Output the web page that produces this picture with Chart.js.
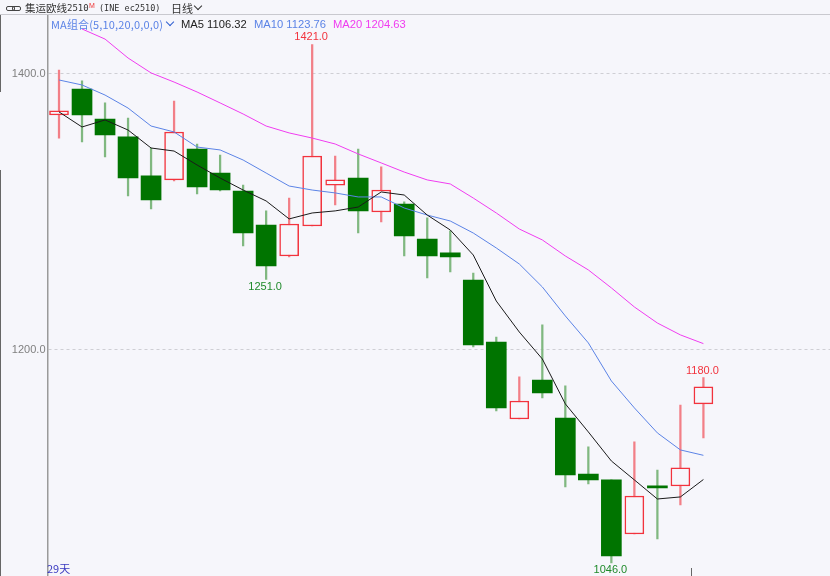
<!DOCTYPE html>
<html>
<head>
<meta charset="utf-8">
<script src="https://cdn.jsdelivr.net/npm/chart.js@4"></script>
<style>
  html, body { margin: 0; padding: 0; width: 830px; height: 576px; overflow: hidden; background: #f6f6fb; }
  canvas { position: absolute; left: 0; top: 0; }
  .txt { position: absolute; white-space: pre; font-family: "Liberation Sans", sans-serif; font-size: 11.2px; line-height: 14px; }
  #header { position: absolute; left: 0; top: 0; width: 830px; height: 14px; background: #f6f6fb; border-bottom: 1px solid #c9c9cf; }
  .chev { position: absolute; width: 5px; height: 5px; border-right: 1.3px solid #333; border-bottom: 1.3px solid #333; transform: rotate(45deg); }
  .bar { position: absolute; background: #666; }
</style>
</head>
<body>
<canvas id="chart" width="830" height="576"></canvas>
<div id="header"></div>
<div class="bar" style="left:0;top:15px;width:1px;height:77px"></div>
<div class="bar" style="left:0;top:170px;width:1px;height:406px"></div>
<div class="bar" style="left:691px;top:568px;width:1px;height:8px"></div>
<div style="position:absolute;left:6px;top:6px;width:7px;height:3px;border:1px solid #444;border-radius:2px"></div>
<div style="position:absolute;left:12px;top:6px;width:7px;height:3px;border:1px solid #444;border-radius:2px"></div>
<div class="txt" style="left:25px;top:1px;color:#333;font-family:'Noto Sans CJK SC';font-size:10.5px">集运欧线</div>
<div class="txt" style="left:67px;top:1px;color:#333;font-family:'DejaVu Sans Mono';font-size:9px">2510</div>
<div class="txt" style="left:89px;top:-1px;color:#e33;font-size:7px">M</div>
<div class="txt" style="left:99px;top:1px;color:#333;font-family:'DejaVu Sans Mono';font-size:8.5px">(INE ec2510)</div>
<div class="txt" style="left:171px;top:1px;color:#333;font-family:'Noto Sans CJK SC';font-size:11px">日线</div>
<div class="chev" style="left:195px;top:3px"></div>
<div class="txt" style="left:51px;top:17px;color:#5b83e6;font-family:'Noto Sans CJK SC';font-size:11px;letter-spacing:0.15px">MA组合(5,10,20,0,0,0)</div>
<div class="chev" style="left:167px;top:19px;border-color:#2f5fd0"></div>
<div class="txt" style="left:181px;top:17px;color:#222">MA5 1106.32</div>
<div class="txt" style="left:254px;top:17px;color:#5b83e6">MA10 1123.76</div>
<div class="txt" style="left:333px;top:17px;color:#f03cf0">MA20 1204.63</div>
<div class="txt" style="left:47px;top:561px;color:#3a3ac0;font-family:'Noto Sans CJK SC';font-size:11px">29天</div>
<script>
const days = ['1','2','3','4','5','6','7','8','9','10','11','12','13','14','15','16','17','18','19','20','21','22','23','24','25','26','27','28','29','','','','',''];

const opens = [1370.0,1388.8,1367.1,1354.1,1325.9,1323.0,1345.4,1328.0,1315.0,1290.4,1268.0,1289.7,1319.3,1324.4,1299.8,1305.6,1280.3,1270.2,1250.6,1205.8,1150.1,1178.3,1150.8,1110.3,1106.0,1066.9,1100.9,1101.6,1161.0];
const closes = [1372.9,1370.0,1355.5,1324.4,1308.5,1357.7,1317.9,1315.7,1284.6,1260.8,1291.1,1340.3,1323.0,1300.6,1315.7,1282.5,1268.0,1267.3,1203.6,1158.1,1163.1,1168.9,1109.6,1106.0,1051.0,1094.4,1100.2,1114.7,1173.3];
const highs = [1402.5,1394.6,1378.7,1367.8,1346.1,1380.1,1349.0,1341.0,1319.3,1300.6,1309.9,1421.0,1340.3,1345.4,1332.4,1307.1,1295.5,1286.1,1255.7,1209.4,1180.5,1218.1,1174.0,1129.9,1106.0,1133.5,1113.2,1160.2,1180.0];
const lows = [1353.3,1350.5,1339.6,1311.4,1302.0,1322.2,1312.8,1315.0,1275.2,1251.0,1267.3,1289.7,1304.9,1284.6,1292.6,1268.0,1252.1,1256.4,1202.2,1155.9,1150.1,1165.3,1100.9,1103.1,1046.0,1066.9,1063.3,1087.9,1136.4];

const ma5 = [1372.2,1361.3,1366.4,1359.1,1346.1,1343.9,1333.8,1324.4,1315.7,1307.8,1294.8,1299.1,1300.6,1303.4,1314.3,1312.1,1297.6,1286.8,1268.7,1235.4,1213.0,1193.5,1161.0,1140.7,1119.7,1106.0,1092.2,1093.7,1106.3];
const ma10 = [1395.3,1391.7,1384.4,1375.0,1362.0,1357.7,1346.8,1344.7,1337.4,1328.0,1318.6,1315.7,1313.6,1310.7,1310.7,1302.7,1297.6,1293.3,1284.6,1273.8,1262.2,1245.6,1224.6,1205.1,1177.6,1158.1,1140.0,1127.7,1123.8];
const ma20 = [null,1432.2,1424.9,1411.2,1400.4,1393.8,1386.6,1378.7,1370.7,1362.0,1357.0,1353.3,1349.0,1341.8,1335.3,1328.7,1323.0,1320.1,1309.9,1299.1,1287.5,1279.6,1268.0,1257.9,1244.9,1231.1,1219.5,1210.9,1204.6];

const yTicks = [1200, 1400];

// high / low values printed next to the wicks
const markIndex = [11, 9, 24, 28];

const RED = '#f2333d';
const GREEN = '#007400';
const BG = '#f6f6fb';

const isUp = (i) => closes[i] >= opens[i];

const markLabels = {
    id: 'markLabels',
    afterDatasetsDraw(chart) {
        const { ctx, scales } = chart;
        ctx.save();
        ctx.font = '11px "Liberation Sans"';
        ctx.textAlign = 'center';
        ctx.textBaseline = 'middle';
        markIndex.forEach((i) => {
            const up = isUp(i);
            const v = up ? highs[i] : lows[i];
            const y = scales.y.getPixelForValue(v) + (up ? -7 : 7);
            ctx.fillStyle = up ? RED : '#1f8a2a';
            ctx.fillText(v.toFixed(1), scales.x.getPixelForValue(i) - 1, y);
        });
        ctx.restore();
    }
};

new Chart(document.getElementById('chart'), {
    data: {
        labels: days,
        datasets: [
            { type: 'line', label: 'MA5', data: ma5, borderColor: '#1a1a1a', borderWidth: 1, pointRadius: 0, tension: 0, order: 1 },
            { type: 'line', label: 'MA10', data: ma10, borderColor: '#5b83e6', borderWidth: 1, pointRadius: 0, tension: 0, order: 1 },
            { type: 'line', label: 'MA20', data: ma20, borderColor: '#f03cf0', borderWidth: 1, pointRadius: 0, tension: 0, order: 1 },
            {
                type: 'bar', label: 'up', order: 2, grouped: false, barThickness: 19, borderSkipped: false, borderWidth: 1.5,
                borderColor: RED, backgroundColor: BG,
                data: opens.map((o, i) => (isUp(i) ? [o, closes[i]] : null))
            },
            {
                type: 'bar', label: 'down', order: 2, grouped: false, barThickness: 20, borderSkipped: false, borderWidth: 0, minBarLength: 2,
                backgroundColor: GREEN,
                data: opens.map((o, i) => (isUp(i) ? null : [closes[i], o]))
            },
            {
                type: 'bar', label: 'wick up', order: 3, grouped: false, barThickness: 1.6, borderWidth: 0,
                backgroundColor: '#f27f87',
                data: highs.map((h, i) => (isUp(i) ? [lows[i], h] : null))
            },
            {
                type: 'bar', label: 'wick down', order: 3, grouped: false, barThickness: 1.6, borderWidth: 0,
                backgroundColor: '#80b880',
                data: highs.map((h, i) => (isUp(i) ? null : [lows[i], h]))
            }
        ]
    },
    options: {
        responsive: false,
        animation: false,
        devicePixelRatio: 1,
        layout: { padding: 0 },
        plugins: { legend: { display: false }, tooltip: { enabled: false } },
        scales: {
            x: {
                display: false,
                stacked: false,
                offset: true
            },
            y: {
                min: 1036.5,
                max: 1453.16,
                afterFit(scale) {
                    scale.width = 47.5;
                    scale.paddingTop = 0;
                    scale.paddingBottom = 0;
                },
                afterBuildTicks(scale) { scale.ticks = yTicks.map((v) => ({ value: v })); },
                border: { display: true, color: '#9a9a9a', width: 1.5, dash: [3, 3] },
                grid: { color: '#cfcfd4', drawTicks: false, tickLength: 0, lineWidth: 1 },
                ticks: {
                    padding: 2,
                    color: '#808080',
                    font: { family: 'Liberation Sans', size: 11 },
                    callback: (v) => Number(v).toFixed(1)
                }
            }
        }
    },
    plugins: [markLabels]
});
</script>
</body>
</html>
